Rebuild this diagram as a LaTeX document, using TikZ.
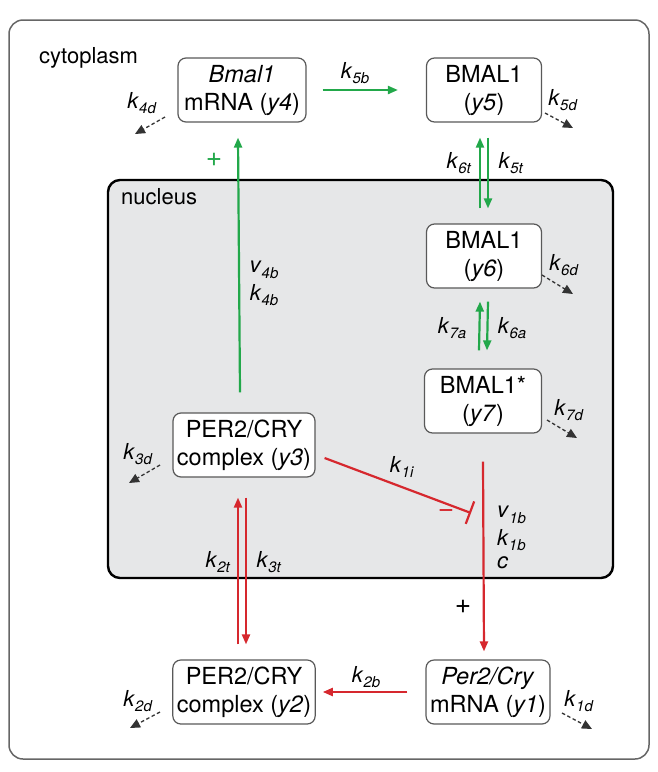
\documentclass[tikz,border=0pt]{standalone}
\usepackage{fontspec}
\setmainfont{TeX Gyre Heros}
\usetikzlibrary{arrows.meta}

\definecolor{grn}{RGB}{34,168,74}
\definecolor{rd}{RGB}{214,40,46}
\definecolor{nucfill}{RGB}{230,231,232}
\newcommand{\rate}[2]{\textit{#1}\raisebox{-0.5ex}{\fontsize{15}{15}\selectfont\textit{#2}}}

\begin{document}
\begin{tikzpicture}
[x=1pt,y=-1pt,
  boxDecorate/.style={draw=black!65,line width=1.2pt,rounded corners=8pt,fill=white,
    align=center,minimum height=64pt,inner xsep=4pt,font=\fontsize{23.5}{28}\selectfont},
  labelDecorate/.style={inner sep=0pt,font=\fontsize{22}{22}\selectfont},
  grnDecorate/.style={draw=grn,line width=2.2pt,-{Triangle[length=10pt,width=8pt]}},
  rdDecorate/.style={draw=rd,line width=2.2pt,-{Triangle[length=10pt,width=8pt]}},
  barDecorate/.style={draw=rd,line width=2.2pt,-{Bar[width=24pt]}},
  decayDecorate/.style={draw=black!80,line width=1.3pt,dash pattern=on 3.5pt off 2.5pt,
    -{Triangle[length=10pt,width=9pt]}}]
\useasboundingbox (0,0) rectangle (658,772);
%% compartments
\draw[black!60,line width=1.5pt,rounded corners=14pt] (9,20) rectangle (649,759);
\draw[fill=nucfill,line width=2.4pt,rounded corners=12pt] (108,180) rectangle (613,578);
\node[labelDecorate,anchor=west] (cyto) at (39,58) {cytoplasm};
\node[labelDecorate,anchor=west] (nuc) at (121,197) {nucleus};
%% species
\node (y4) at (242,90) [boxDecorate,minimum width=128pt] {\textit{Bmal1}\\mRNA (\textit{y4})};
\node (y5) at (484,90) [boxDecorate,minimum width=115pt] {BMAL1\\(\textit{y5})};
\node (y6) at (484,256) [boxDecorate,minimum width=115pt] {BMAL1\\(\textit{y6})};
\node (y7) at (483,401) [boxDecorate,minimum width=117pt] {BMAL1*\\(\textit{y7})};
\node (y3) at (244,445) [boxDecorate] {PER2/CRY\\complex (\textit{y3})};
\node (y2) at (244,692) [boxDecorate] {PER2/CRY\\complex (\textit{y2})};
\node (y1) at (488,692) [boxDecorate] {\textit{Per2/Cry}\\mRNA (\textit{y1})};
%% BMAL1 branch
\draw[grnDecorate] ([shift={(-4,-20)}]y3.north) -- ([shift={(-4,15)}]y4.south);
\draw[grnDecorate] ([shift={(16,0)}]y4.east) -- ([shift={(-28,0)}]y5.west);
\draw[grnDecorate] ([shift={(-4,-15)}]y6.north) -- ([shift={(-4,15)}]y5.south);
\draw[grnDecorate] ([shift={(4,15)}]y5.south) -- ([shift={(4,-15)}]y6.north);
\draw[grnDecorate] ([shift={(-4,-18)}]y7.north) -- ([shift={(-4,13)}]y6.south);
\draw[grnDecorate] ([shift={(4,13)}]y6.south) -- ([shift={(4,-18)}]y7.north);
%% PER2/CRY branch
\coordinate (inh) at (471,513);
\draw[rdDecorate] ([shift={(0,28)}]y7.south) -- ([shift={(-4,-8)}]y1.north);
\draw[barDecorate] ([shift={(9,13)}]y3.east) -- (inh);
\draw[rdDecorate] ([shift={(-18,0)}]y1.west) -- ([shift={(7,0)}]y2.east);
\draw[rdDecorate] ([shift={(-6,-15)}]y2.north) -- ([shift={(-6,20)}]y3.south);
\draw[rdDecorate] ([shift={(2,20)}]y3.south) -- ([shift={(2,-15)}]y2.north);
%% rate labels
\foreach \lname/\x/\y/\txt in {
  k5b/355/73/\rate{k}{5b},
  v4b/264/270/\rate{v}{4b},
  k4b/264/295/\rate{k}{4b},
  k6t/459/163/\rate{k}{6t},
  k5t/511/163/\rate{k}{5t},
  k7a/452/328/\rate{k}{7a},
  k6a/512/328/\rate{k}{6a},
  k1i/402/467/\rate{k}{1i},
  k2t/218/562/\rate{k}{2t},
  k3t/269/562/\rate{k}{3t},
  k2b/366/677/\rate{k}{2b}}
{
  \node (\lname) at (\x,\y) [labelDecorate] {\txt};
}
\node (v1b) at (497,515) [labelDecorate,anchor=west] {\rate{v}{1b}};
\node (k1b) at (497,540) [labelDecorate,anchor=west] {\rate{k}{1b}};
\node (cc) at (497,563) [labelDecorate,anchor=west] {\textit{c}};
\node (plusg) at (214,160) [labelDecorate,text=grn,font=\fontsize{28}{28}\selectfont] {+};
\node (minusr) at (446,514) [labelDecorate,text=rd,font=\fontsize{28}{28}\selectfont] {\textminus};
\node (plusr) at (463,607) [labelDecorate,font=\fontsize{28}{28}\selectfont] {+};
%% degradation
\foreach \dname/\lx/\ly/\sx/\sy/\ex/\ey in {
  4d/142/103/165/117/135/134,
  5d/563/100/545/113/573/128,
  6d/564/265/542/275/573/294,
  7d/569/410/547/420/577/438,
  3d/138/454/160/465/129/483,
  2d/138/701/160/712/130/728,
  1d/579/701/562/713/592/729}
{
  \node (k\dname) at (\lx,\ly) [labelDecorate] {\rate{k}{\dname}};
  \coordinate (s\dname) at (\sx,\sy);
  \coordinate (e\dname) at (\ex,\ey);
  \draw[decayDecorate] (s\dname) -- (e\dname);
}
\end{tikzpicture}
\end{document}
